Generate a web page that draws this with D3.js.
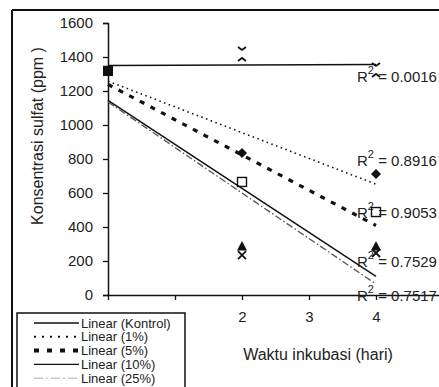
<!DOCTYPE html>
<html><head><meta charset="utf-8">
<script src="https://cdn.jsdelivr.net/npm/d3@7/dist/d3.min.js"></script>
<style>
html,body{margin:0;padding:0;background:#fff;}
svg{display:block;font-family:"Liberation Sans",Arial,sans-serif;}
</style></head>
<body>
<svg id="c" width="439" height="387"></svg>
<script>
// ---- data ----
const days = [0, 2, 4];
const seriesNames = ["Kontrol", "1%", "5%", "10%", "25%"];
const kontrol = [1318, 1418, 1324];
const p1 = [1318, 835, 712];
const p5 = [1318, 665, 488];
const p10 = [1318, 282, 282];
const p25 = [1318, 235, 247];
const r2Labels = ["0.0016", "0.8916", "0.9053", "0.7529", "0.7517"];
const yTicks = [0, 200, 400, 600, 800, 1000, 1200, 1400, 1600];
const xTicks = [0, 1, 2, 3, 4, 5];
const xTickLabels = ["", "", "2", "3", "4", "5"];
const legendLabels = ["Linear (Kontrol)", "Linear (1%)", "Linear (5%)", "Linear (10%)", "Linear (25%)"];
const yTitle = "Konsentrasi sulfat (ppm )";
const xTitle = "Waktu inkubasi (hari)";

const allSeries = [kontrol, p1, p5, p10, p25];

// ---- styles ----
const lineStyles = [
  {stroke:"#111", width:1.5, dash:null},
  {stroke:"#111", width:1.6, dash:"1.5,3.5"},
  {stroke:"#111", width:3.2, dash:"5,7"},
  {stroke:"#111", width:1.5, dash:null},
  {stroke:"#555", width:1.3, dash:"7,2.5,1.5,2.5"}
];
const markerTypes = ["chev", "diamond", "square", "triangle", "x"];

const svg = d3.select("#c");
const x = d3.scaleLinear().domain([0, 5]).range([108, 443]);
const y = d3.scaleLinear().domain([0, 1600]).range([295, 23]);

// outer frame
svg.append("line").attr("x1",12).attr("x2",439).attr("y1",10).attr("y2",10).attr("stroke","#111").attr("stroke-width",2);
svg.append("line").attr("x1",12).attr("x2",12).attr("y1",10).attr("y2",387).attr("stroke","#111").attr("stroke-width",2);

// axes
const yAxis = d3.axisLeft(y).tickValues(yTicks).tickSize(5).tickPadding(10).tickFormat(d3.format("d"));
const gy = svg.append("g").attr("transform","translate(108,0)").call(yAxis);
gy.select(".domain").attr("stroke","#111").attr("stroke-width",1.5);
gy.selectAll(".tick line").attr("stroke","#111").attr("stroke-width",1.3);
gy.selectAll("text").attr("font-size",15).attr("fill","#222").attr("font-family","Liberation Sans, Arial, sans-serif");

const xAxis = d3.axisBottom(x).tickValues(xTicks).tickSize(5).tickPadding(11).tickSizeOuter(0)
  .tickFormat((d,i)=>xTickLabels[i]);
const gx = svg.append("g").attr("transform","translate(0,295)").call(xAxis);
gx.select(".domain").attr("stroke","#111").attr("stroke-width",1.5);
gx.selectAll(".tick line").attr("stroke","#111").attr("stroke-width",1.3);
gx.selectAll("text").attr("font-size",15).attr("fill","#222").attr("font-family","Liberation Sans, Arial, sans-serif");

// axis titles
svg.append("text").attr("transform","translate(43,136) rotate(-90)").attr("text-anchor","middle")
  .attr("font-size",16).attr("fill","#222").text(yTitle);
svg.append("text").attr("x",318).attr("y",360).attr("text-anchor","middle")
  .attr("font-size",16).attr("fill","#222").text(xTitle);

// regression
function fit(vals){
  const mx = d3.mean(days), my = d3.mean(vals);
  let sxy=0, sxx=0;
  days.forEach((d,i)=>{sxy+=(d-mx)*(vals[i]-my); sxx+=(d-mx)*(d-mx);});
  const b = sxy/sxx; return {a: my - b*mx, b};
}

// markers
const markerG = svg.append("g");
function drawMarker(type, cx, cy){
  const g = markerG.append("g").attr("transform",`translate(${cx},${cy})`);
  if(type==="diamond") g.append("path").attr("d","M0,-5L5,0L0,5L-5,0Z").attr("fill","#111");
  else if(type==="square") g.append("rect").attr("x",-4.5).attr("y",-4.5).attr("width",9).attr("height",9).attr("fill","#fff").attr("stroke","#111").attr("stroke-width",1.4);
  else if(type==="triangle") g.append("path").attr("d","M0,-6L5,3.5L-5,3.5Z").attr("fill","#111");
  else if(type==="x") g.append("path").attr("d","M-4,-4L4,4M-4,4L4,-4").attr("stroke","#111").attr("stroke-width",1.8);
  else if(type==="chev") g.append("path").attr("d","M-4,-7L0,-4L4,-7M-4,7L0,4L4,7").attr("stroke","#111").attr("stroke-width",1.8).attr("fill","none");
  else if(type==="fsquare") g.append("rect").attr("x",-5).attr("y",-5).attr("width",10).attr("height",10).attr("fill","#111");
}

allSeries.forEach((vals, si)=>{
  days.forEach((d,i)=>{
    drawMarker(d===0 ? "fsquare" : markerTypes[si], x(d), y(vals[i]));
  });
});

// trendlines
const line = d3.line().x(d=>x(d[0])).y(d=>y(d[1]));
allSeries.forEach((vals, si)=>{
  const f = fit(vals);
  const pts = [0,4].map(t=>[t, f.a + f.b*t]);
  const st = lineStyles[si];
  svg.append("path").attr("d", line(pts)).attr("fill","none")
    .attr("stroke", st.stroke).attr("stroke-width", st.width)
    .attr("stroke-dasharray", st.dash);
});

// R² labels
const labelBaselines = [82, 166, 218, 267, 301];
r2Labels.forEach((lab, i)=>{
  const t = svg.append("text").attr("x",357).attr("y",labelBaselines[i]).attr("font-size",15).attr("fill","#222");
  t.append("tspan").text("R");
  t.append("tspan").attr("dy",-8).attr("font-size",11).text("2");
  t.append("tspan").attr("dy",8).text(" = " + lab);
});

// legend
const lg = svg.append("g");
lg.append("rect").attr("x",17).attr("y",313).attr("width",168).attr("height",90)
  .attr("fill","#fff").attr("stroke","#111").attr("stroke-width",1.5);
const legendStyles = [
  {stroke:"#111", width:1.3, dash:null},
  {stroke:"#111", width:2, dash:"2,6"},
  {stroke:"#111", width:4, dash:"5,8"},
  {stroke:"#111", width:1.3, dash:null},
  {stroke:"#aaa", width:1, dash:"9,3,2,3"}
];
legendLabels.forEach((lab, i)=>{
  const cy = 323 + i*13.8;
  const st = legendStyles[i];
  lg.append("line").attr("x1",34).attr("x2",79).attr("y1",cy).attr("y2",cy)
    .attr("stroke",st.stroke).attr("stroke-width",st.width).attr("stroke-dasharray",st.dash);
  lg.append("text").attr("x",81).attr("y",cy+4.5).attr("font-size",13).attr("fill","#222").text(lab);
});
</script>
</body></html>
